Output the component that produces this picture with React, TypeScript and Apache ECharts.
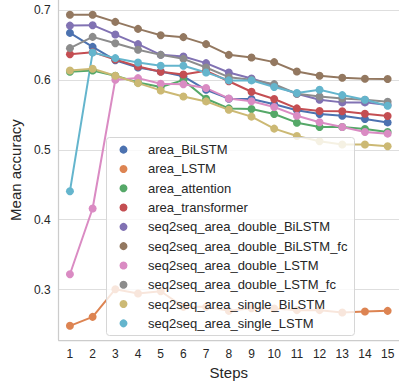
import React, { useEffect, useRef } from "react";
import * as echarts from "echarts";

// Evaluation steps on the x axis
const steps = ["1", "2", "3", "4", "5", "6", "7", "8", "9", "10", "11", "12", "13", "14", "15"];

// Mean accuracy per step for each model
const areaBiLSTM = [0.667, 0.647, 0.628, 0.6176, 0.6118, 0.605, 0.5857, 0.573, 0.5725, 0.565, 0.5564, 0.5511, 0.5487, 0.544, 0.5391];
const areaLSTM = [0.2484, 0.2612, 0.3007, 0.2946, 0.2978, 0.2755, 0.2755, 0.2698, 0.2736, 0.2732, 0.2708, 0.2708, 0.2675, 0.2689, 0.2698];
const areaAttention = [0.6114, 0.6133, 0.6057, 0.5962, 0.5896, 0.5995, 0.5729, 0.5591, 0.5582, 0.5511, 0.5387, 0.5325, 0.5325, 0.5297, 0.5254];
const areaTransformer = [0.6366, 0.6395, 0.629, 0.619, 0.6114, 0.6076, 0.6128, 0.5979, 0.5829, 0.5725, 0.5591, 0.5554, 0.5551, 0.5515, 0.5483];
const s2sDoubleBiLSTM = [0.6774, 0.678, 0.6646, 0.6509, 0.6356, 0.6332, 0.6238, 0.6104, 0.6019, 0.5919, 0.58, 0.5715, 0.5677, 0.5677, 0.5639];
const s2sDoubleBiLSTMfc = [0.693, 0.693, 0.6827, 0.6727, 0.6637, 0.6609, 0.6509, 0.6356, 0.6318, 0.6252, 0.6118, 0.6057, 0.6028, 0.6014, 0.601];
const s2sDoubleLSTM = [0.3221, 0.4161, 0.6, 0.6024, 0.5943, 0.5935, 0.5882, 0.5733, 0.5693, 0.5611, 0.5487, 0.5392, 0.5325, 0.5254, 0.523];
const s2sDoubleLSTMfc = [0.6452, 0.6613, 0.6523, 0.6428, 0.6356, 0.6299, 0.6175, 0.6037, 0.5999, 0.5938, 0.58, 0.5762, 0.5733, 0.5715, 0.5686];
const s2sSingleBiLSTM = [0.6133, 0.6157, 0.6057, 0.5952, 0.5848, 0.5762, 0.5691, 0.5572, 0.5473, 0.5302, 0.5197, 0.5121, 0.5074, 0.5074, 0.5049];
const s2sSingleLSTM = [0.4408, 0.6389, 0.6309, 0.6247, 0.62, 0.62, 0.6105, 0.5991, 0.5991, 0.5896, 0.581, 0.5857, 0.5781, 0.5715, 0.5629];

const seriesNames = [
  "area_BiLSTM",
  "area_LSTM",
  "area_attention",
  "area_transformer",
  "seq2seq_area_double_BiLSTM",
  "seq2seq_area_double_BiLSTM_fc",
  "seq2seq_area_double_LSTM",
  "seq2seq_area_double_LSTM_fc",
  "seq2seq_area_single_BiLSTM",
  "seq2seq_area_single_LSTM",
];
const seriesValues = [
  areaBiLSTM,
  areaLSTM,
  areaAttention,
  areaTransformer,
  s2sDoubleBiLSTM,
  s2sDoubleBiLSTMfc,
  s2sDoubleLSTM,
  s2sDoubleLSTMfc,
  s2sSingleBiLSTM,
  s2sSingleLSTM,
];
const palette = ["#4C72B0", "#DD8452", "#55A868", "#C44E52", "#8172B3", "#937860", "#DA8BC3", "#8C8C8C", "#CCB974", "#64B5CD"];

const FONT = '"Liberation Sans", Arial, Helvetica, sans-serif';
const TEXT = "#262626";

export default function App() {
  const ref = useRef<HTMLDivElement>(null);

  useEffect(() => {
    if (!ref.current) return;
    const chart = echarts.init(ref.current, null, { renderer: "svg" });
    chart.setOption({
      animation: false,
      textStyle: { fontFamily: FONT },
      grid: { left: 57, right: -4, top: 0, bottom: 44 },
      xAxis: {
        type: "category",
        data: steps,
        boundaryGap: true,
        name: "Steps",
        nameLocation: "middle",
        nameGap: 21,
        nameTextStyle: { fontSize: 15, color: TEXT, fontFamily: FONT },
        axisLine: { show: true, lineStyle: { color: "#cccccc", width: 1.25 } },
        axisTick: { show: false },
        axisLabel: { fontSize: 12, color: TEXT, margin: 8, fontFamily: FONT },
        splitLine: { show: false },
      },
      yAxis: {
        type: "value",
        min: 0.228,
        max: 0.714,
        minInterval: 0.1,
        maxInterval: 0.1,
        name: "Mean accuracy",
        nameLocation: "middle",
        nameGap: 22,
        nameTextStyle: { fontSize: 15, color: TEXT, fontFamily: FONT },
        axisLine: { show: true, lineStyle: { color: "#cccccc", width: 1.25 } },
        axisTick: { show: false },
        axisLabel: {
          fontSize: 12,
          color: TEXT,
          margin: 8,
          fontFamily: FONT,
          showMinLabel: false,
          showMaxLabel: false,
          formatter: (v: number) => v.toFixed(1),
        },
        splitLine: {
          show: true,
          showMinLine: false,
          showMaxLine: false,
          lineStyle: { color: "#dedede", width: 1 },
        },
      },
      legend: {
        orient: "vertical",
        left: 119.5,
        top: 140,
        padding: 0,
        itemGap: 0,
        itemWidth: 39,
        itemHeight: 8,
        icon: "circle",
        selectedMode: false,
        z: 20,
        textStyle: { fontSize: 13, color: TEXT, fontFamily: FONT, lineHeight: 19.3 },
        data: seriesNames,
      },
      // translucent frame behind the legend entries
      graphic: {
        elements: [
          {
            type: "rect",
            z: 10,
            left: 106,
            top: 137,
            shape: { width: 248, height: 198, r: 3 },
            style: { fill: "rgba(255,255,255,0.8)", stroke: "#d6d6d6", lineWidth: 1 },
            silent: true,
          },
        ],
      },
      series: seriesNames.map((name, i) => ({
        name,
        type: "line",
        data: seriesValues[i],
        symbol: "circle",
        symbolSize: 8,
        showAllSymbol: true,
        color: palette[i],
        itemStyle: { color: palette[i] },
        lineStyle: { color: palette[i], width: 2 },
        emphasis: { disabled: true },
        silent: true,
      })),
    });
    return () => chart.dispose();
  }, []);

  return (
    <div
      ref={ref}
      style={{ position: "absolute", left: 0, top: 0, width: 399, height: 385, background: "#ffffff" }}
    />
  );
}
